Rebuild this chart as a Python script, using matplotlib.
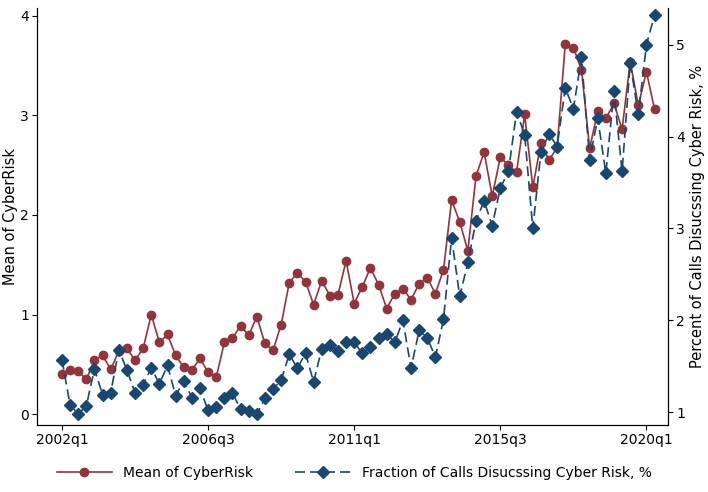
import matplotlib.pyplot as plt

quarters = [f"{2002 + i // 4}q{i % 4 + 1}" for i in range(74)]

mean_cyber = [0.40, 0.44, 0.43, 0.35, 0.54, 0.59, 0.45, 0.63, 0.66, 0.54,
              0.66, 1.00, 0.72, 0.80, 0.59, 0.47, 0.44, 0.56, 0.42, 0.37,
              0.72, 0.76, 0.89, 0.79, 0.98, 0.71, 0.64, 0.90, 1.32, 1.42,
              1.33, 1.10, 1.34, 1.19, 1.20, 1.54, 1.11, 1.28, 1.47, 1.30,
              1.06, 1.21, 1.26, 1.15, 1.31, 1.37, 1.21, 1.45, 2.15, 1.93,
              1.64, 2.39, 2.63, 2.19, 2.58, 2.50, 2.43, 3.01, 2.28, 2.72,
              2.55, 2.68, 3.72, 3.68, 3.46, 2.67, 3.04, 2.97, 3.12, 2.86,
              3.54, 3.10, 3.44, 3.06]

frac_calls = [1.57, 1.08, 0.98, 1.07, 1.47, 1.19, 1.21, 1.68, 1.46, 1.21,
              1.30, 1.48, 1.31, 1.51, 1.18, 1.34, 1.16, 1.26, 1.02, 1.06,
              1.15, 1.21, 1.03, 1.01, 0.98, 1.15, 1.25, 1.35, 1.63, 1.48,
              1.64, 1.33, 1.69, 1.73, 1.67, 1.76, 1.76, 1.64, 1.71, 1.81,
              1.85, 1.76, 2.00, 1.48, 1.89, 1.81, 1.60, 2.01, 2.90, 2.26,
              2.63, 3.08, 3.30, 3.03, 3.44, 3.62, 4.27, 4.02, 3.00, 3.83,
              4.03, 3.89, 4.53, 4.30, 4.86, 3.75, 4.20, 3.60, 4.49, 3.62,
              4.80, 4.24, 5.00, 5.32]

red = '#90353b'
blue = '#1a476f'
x = list(range(len(quarters)))

fig = plt.figure(figsize=(7.08, 4.92), dpi=100)
ax = fig.add_axes([0.052, 0.136, 0.892, 0.848])
ax2 = ax.twinx()

l1, = ax.plot(x, mean_cyber, color=red, marker='o', markersize=6, lw=1.2,
              label='Mean of CyberRisk')
l2, = ax2.plot(x, frac_calls, color=blue, marker='D', markersize=6, lw=1.2,
               dashes=(6, 3), label='Fraction of Calls Disucssing Cyber Risk, %')

ax.set_ylim(-0.11, 4.08)
ax2.set_ylim(0.86, 5.40)
ax.set_xlim(-3.1, 74.7)
ax.set_yticks([0, 1, 2, 3, 4])
ax2.set_yticks([1, 2, 3, 4, 5])
ticks = [0, 18, 36, 54, 72]
ax.set_xticks(ticks)
ax.set_xticklabels([quarters[i] for i in ticks])
ax.set_ylabel('Mean of CyberRisk', fontsize=10.5, labelpad=2)
ax2.set_ylabel('Percent of Calls Disucssing Cyber Risk, %', fontsize=10.5, labelpad=4)
for a in (ax, ax2):
    a.spines['top'].set_visible(False)
    a.tick_params(labelsize=10, direction='out', pad=2)

fig.legend(handles=[l1, l2], loc='lower center', ncol=2, frameon=False,
           fontsize=10, bbox_to_anchor=(0.5, 0.0), handlelength=4, columnspacing=3)

fig.savefig('out.png')
